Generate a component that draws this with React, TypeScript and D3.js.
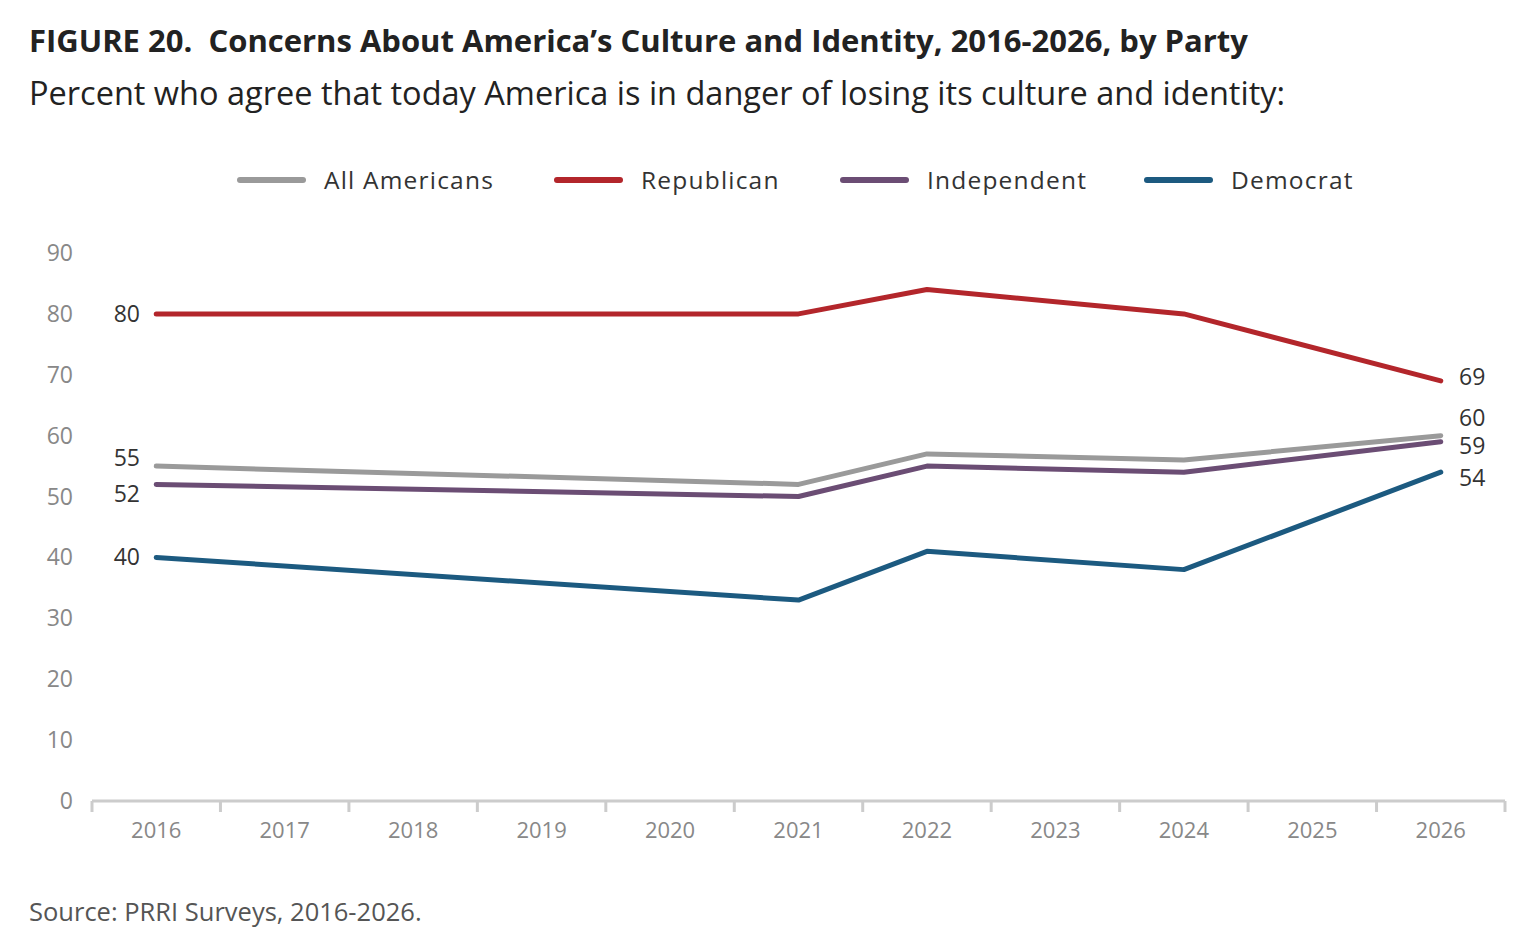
import * as d3 from 'd3'

const years = ['2016', '2017', '2018', '2019', '2020', '2021', '2022', '2023', '2024', '2025', '2026']
const surveyYears = ['2016', '2021', '2022', '2024', '2026']
const allAmericans = [55, 52, 57, 56, 60]
const republican = [80, 80, 84, 80, 69]
const independent = [52, 50, 55, 54, 59]
const democrat = [40, 33, 41, 38, 54]
const yTicks = [0, 10, 20, 30, 40, 50, 60, 70, 80, 90]

const series = [
	{ name: 'All Americans', values: allAmericans, color: '#9a9a9a', left: 55, leftDy: -8, rightDy: -18 },
	{ name: 'Republican', values: republican, color: '#b3262b', left: 80, leftDy: 0, rightDy: -4 },
	{ name: 'Independent', values: independent, color: '#6b4d74', left: 52, leftDy: 10, rightDy: 4 },
	{ name: 'Democrat', values: democrat, color: '#1c5a80', left: 40, leftDy: 0, rightDy: 6 },
]

export default function App() {
	const font = '"Open Sans", sans-serif'
	const x = d3.scaleBand<string>().domain(years).range([92, 1505])
	const cx = (yr: string) => (x(yr) ?? 0) + x.bandwidth() / 2
	const y = d3.scaleLinear().domain([0, 90]).range([801, 253])
	const line = d3
		.line<number>()
		.x((_, i) => cx(surveyYears[i]))
		.y((v) => y(v))
	const legendX = [240, 557, 843, 1147]

	return (
		<svg width={1536} height={950} style={{ position: 'absolute', left: 0, top: 0, fontFamily: font }}>
			<rect width={1536} height={950} fill="#fff" />
			<text x={29} y={52} fontSize={31} fontWeight={700} fill="#222" style={{ whiteSpace: 'pre' }}>
				{'FIGURE 20.  Concerns About America’s Culture and Identity, 2016-2026, by Party'}
			</text>
			<text x={29} y={105} fontSize={32.5} fill="#222">
				Percent who agree that today America is in danger of losing its culture and identity:
			</text>
			{series.map((s, i) => (
				<g key={s.name}>
					<line x1={legendX[i]} x2={legendX[i] + 63} y1={180} y2={180} stroke={s.color} strokeWidth={6} strokeLinecap="round" />
					<text x={legendX[i] + 84} y={189} fontSize={24.5} fill="#333" letterSpacing={1.2}>
						{s.name}
					</text>
				</g>
			))}
			{yTicks.map((t) => (
				<text key={t} x={73} y={y(t)} dy="0.35em" textAnchor="end" fontSize={23} fill="#888">
					{t}
				</text>
			))}
			<line x1={92} x2={1505} y1={801} y2={801} stroke="#ccc" strokeWidth={3} />
			{years.concat(['end']).map((yr, i) => {
				const px = i < years.length ? x(yr) ?? 0 : 1505
				return <line key={yr} x1={px} x2={px} y1={801} y2={812} stroke="#ccc" strokeWidth={3} />
			})}
			{years.map((yr) => (
				<text key={yr} x={cx(yr)} y={838} textAnchor="middle" fontSize={22} fill="#888">
					{yr}
				</text>
			))}
			{series.map((s) => (
				<g key={s.name}>
					<path d={line(s.values) ?? ''} fill="none" stroke={s.color} strokeWidth={5} strokeLinejoin="round" strokeLinecap="round" />
					<text x={140} y={y(s.left) + s.leftDy} dy="0.35em" textAnchor="end" fontSize={23} fill="#333">
						{s.left}
					</text>
					<text x={1459} y={y(s.values[s.values.length - 1]) + s.rightDy} dy="0.35em" fontSize={23} fill="#333">
						{s.values[s.values.length - 1]}
					</text>
				</g>
			))}
			<text x={29} y={921} fontSize={25.5} fill="#555">
				Source: PRRI Surveys, 2016-2026.
			</text>
		</svg>
	)
}
